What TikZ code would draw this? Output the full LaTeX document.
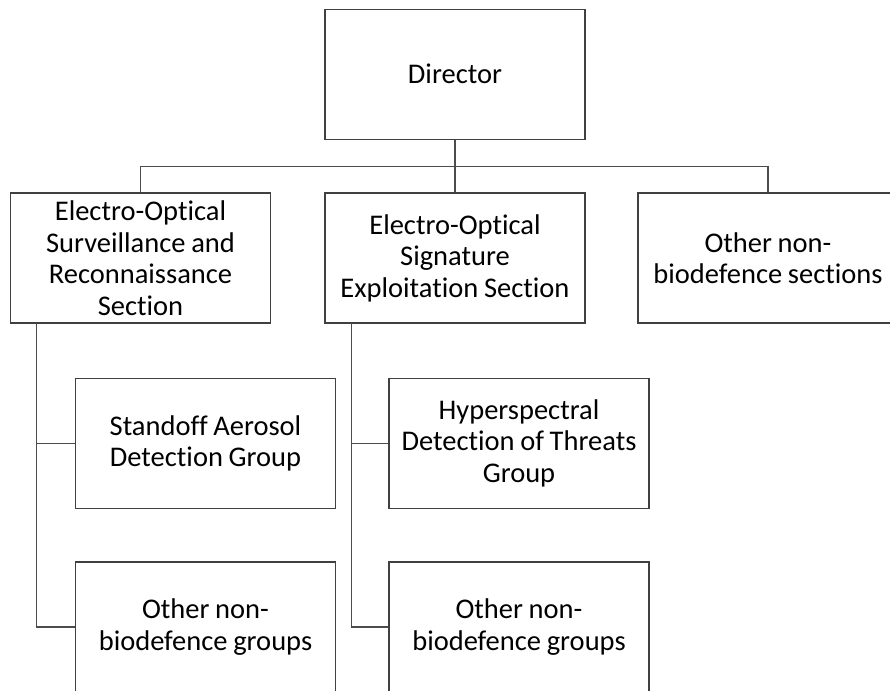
\documentclass[tikz,border=0pt]{standalone}
\usepackage{fontspec}
\setmainfont{Carlito}[Ligatures=NoCommon]
\usepackage{tikz}

\begin{document}
\begin{tikzpicture}[x=1pt,y=-1pt,
  unit/.style={draw=black!75, line width=1.3pt, minimum width=260pt, minimum height=130pt,
    inner sep=0pt, text width=256pt, align=center, font=\fontsize{28.5}{31.5}\selectfont,
    execute at begin node={\spaceskip=0.2em\relax}},
  link/.style={draw=black!70, line width=1.3pt}]
\useasboundingbox (0,0) rectangle (890,690);
\node[unit] (director) at (455,74.3) {Director};
\node[unit] (eosr) at (140.5,258) {Electro-Optical\\Surveillance and\\Reconnaissance\\Section};
\node[unit] (eose) at (455,258) {Electro-Optical\\Signature\\Exploitation Section};
\node[unit] (othersec) at (768,258) {Other non-\\biodefence sections};
\node[unit] (standoff) at (205.5,443.3) {Standoff Aerosol\\Detection Group};
\node[unit] (othergrpA) at (205.5,627) {Other non-\\biodefence groups};
\node[unit] (hyper) at (519,443.3) {Hyperspectral\\Detection of Threats\\Group};
\node[unit] (othergrpB) at (519,627) {Other non-\\biodefence groups};
\coordinate (bus) at (455,166.7);
\coordinate (spineA) at (36.7,323);
\coordinate (spineB) at (351.7,323);
% director to sections
\draw[link] (director.south) -- (eose.north);
\draw[link] (eosr.north) |- (bus) -| (othersec.north);
% sections to groups
\draw[link] (spineA) |- (othergrpA.west);
\draw[link] (standoff.west) -- (standoff.west -| spineA);
\draw[link] (spineB) |- (othergrpB.west);
\draw[link] (hyper.west) -- (hyper.west -| spineB);
\end{tikzpicture}
\end{document}
